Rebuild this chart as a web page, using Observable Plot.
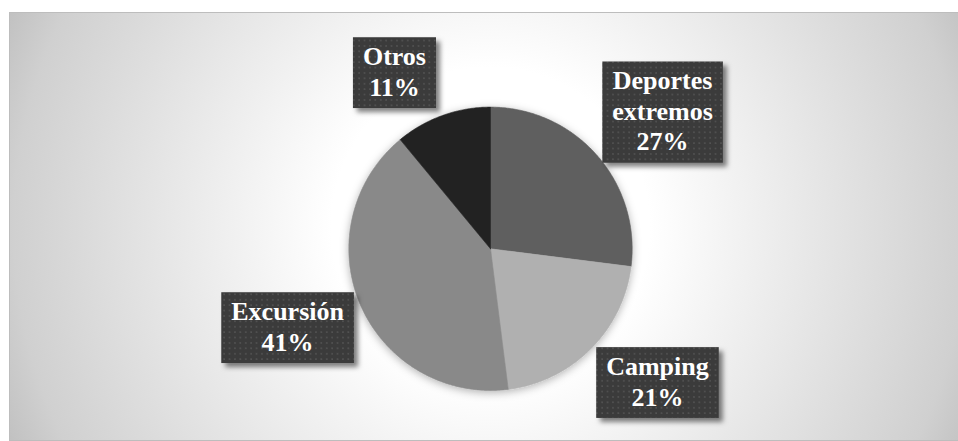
<!DOCTYPE html>
<html><head><meta charset="utf-8">
<script src="https://cdn.jsdelivr.net/npm/d3@7"></script>
<script src="https://cdn.jsdelivr.net/npm/@observablehq/plot@0.6"></script>
<style>html,body{margin:0;padding:0;background:#fff;} #chart{width:958px;height:441px;overflow:hidden;position:relative}
#chart svg{position:absolute;left:0;top:0}
.lbl{position:absolute;display:flex;align-items:center;justify-content:center;text-align:center;white-space:pre;
  font-family:"Liberation Serif","Times New Roman",serif;font-weight:bold;color:#fff;}</style>
</head><body><div id="chart"></div>
<script>
// ---- data ----
const categories = ["Deportes extremos", "Camping", "Excursión", "Otros"];
const values = [27, 21, 41, 11];
const colors = ["#5e5e5e", "#b0b0b0", "#898989", "#212121"];

// ---- layout ----
const W = 958, H = 441;
const CX = 490, CY = 248.3, R = 141.7;
const FONT_SIZE = 26, LINE_H = 1.17, FONT = "Liberation Serif";

const arcs = d3.pie().sort(null).value(d => d)(values);
const pt = (a, r) => ({x: CX + r * Math.sin(a), y: CY - r * Math.cos(a)});

const slices = arcs.map((a, i) => {
  const n = Math.max(2, Math.ceil((a.endAngle - a.startAngle) / (Math.PI / 360)));
  const pts = [{x: CX, y: CY}];
  for (let k = 0; k <= n; k++) pts.push(pt(a.startAngle + (a.endAngle - a.startAngle) * k / n, R));
  pts.push({x: CX, y: CY});
  return {name: categories[i], color: colors[i], points: pts};
});

const ctx = document.createElement("canvas").getContext("2d");
ctx.font = `bold ${FONT_SIZE}px "${FONT}"`;
const labels = arcs.map((a, i) => {
  const text = categories[i].replace(" ", "\n") + "\n" + values[i] + "%";
  const lines = text.split("\n");
  const w = d3.max(lines, l => ctx.measureText(l).width) + 20;
  const h = lines.length * FONT_SIZE * LINE_H + 10;
  const mid = (a.startAngle + a.endAngle) / 2;
  const A = pt(mid, R);
  const s = Math.sin(mid), c = Math.cos(mid);
  const cx = A.x + Math.sign(s) * (w / 2 + 6);
  const cy = A.y - c * (h / 2) - Math.sign(c) * 9;
  return {text, cx, cy, x1: cx - w / 2, x2: cx + w / 2, y1: cy - h / 2, y2: cy + h / 2};
});

const svg = Plot.plot({
  width: W, height: H,
  marginLeft: 9, marginTop: 12, marginRight: 0, marginBottom: 1,
  x: {domain: [9, W], range: [9, W], axis: null},
  y: {domain: [12, H - 1], range: [12, H - 1], axis: null},
  style: {background: "white", overflow: "visible"},
  marks: [
    Plot.frame({fill: "#d0d0d0", stroke: "#bdbdbd", strokeWidth: 1}),
    ...slices.map(s => Plot.line(s.points, {x: "x", y: "y", fill: s.color, stroke: s.color, strokeWidth: 0.6})),
    Plot.rect(labels, {x1: "x1", x2: "x2", y1: "y1", y2: "y2", fill: "#3b3b3b"})
  ]
});

// ---- decoration: gradient, dotted label boxes, shadows ----
const sel = d3.select(svg);
const defs = sel.insert("defs", ":first-child");
const grad = defs.append("radialGradient").attr("id", "bg").attr("gradientUnits", "userSpaceOnUse")
  .attr("cx", 490).attr("cy", 226).attr("r", 530);
[[0, "#ffffff"], [0.3, "#ffffff"], [0.9, "#d0d0d0"], [1, "#c0c0c0"]].forEach(([o, c]) =>
  grad.append("stop").attr("offset", o).attr("stop-color", c));
const pat = defs.append("pattern").attr("id", "dots").attr("patternUnits", "userSpaceOnUse")
  .attr("width", 5.4).attr("height", 5.4);
pat.append("rect").attr("width", 5.4).attr("height", 5.4).attr("fill", "#3b3b3b");
pat.append("rect").attr("x", 2).attr("y", 2).attr("width", 1.5).attr("height", 1.5).attr("fill", "#585858");
const f1 = defs.append("filter").attr("id", "boxShadow").attr("x", "-20%").attr("y", "-20%").attr("width", "150%").attr("height", "150%");
f1.append("feDropShadow").attr("dx", 4).attr("dy", 4).attr("stdDeviation", 2.5).attr("flood-color", "#000").attr("flood-opacity", 0.5);
const f2 = defs.append("filter").attr("id", "pieShadow").attr("x", "-20%").attr("y", "-20%").attr("width", "140%").attr("height", "140%");
f2.append("feDropShadow").attr("dx", 0).attr("dy", 2).attr("stdDeviation", 4).attr("flood-color", "#000").attr("flood-opacity", 0.3);

sel.selectAll('[aria-label="frame"]').each(function() {
  d3.select(this).attr("fill", "url(#bg)");
  d3.select(this).selectAll("rect").attr("fill", "url(#bg)");
});
const pieG = sel.insert("g", '[aria-label="line"]').attr("filter", "url(#pieShadow)");
sel.selectAll('[aria-label="line"]').each(function() { pieG.node().appendChild(this); });
sel.selectAll('[aria-label="rect"]').each(function() {
  d3.select(this).attr("fill", "url(#dots)").attr("filter", "url(#boxShadow)");
  d3.select(this).selectAll("rect").attr("fill", "url(#dots)");
});

const chart = document.getElementById("chart");
chart.appendChild(svg);

// ---- data labels (placed with the plot's own x/y scales) ----
const sx = svg.scale && svg.scale("x"), sy = svg.scale && svg.scale("y");
const fx = sx && sx.apply ? sx.apply : (v => v);
const fy = sy && sy.apply ? sy.apply : (v => v);
labels.forEach(l => {
  const d = document.createElement("div");
  d.className = "lbl";
  const left = fx(l.x1), right = fx(l.x2), top = fy(l.y1), bottom = fy(l.y2);
  d.style.left = left + "px";
  d.style.top = top + "px";
  d.style.width = (right - left) + "px";
  d.style.height = (bottom - top) + "px";
  d.style.fontSize = FONT_SIZE + "px";
  d.style.lineHeight = (FONT_SIZE * LINE_H) + "px";
  d.textContent = l.text;
  chart.appendChild(d);
});
</script>
</body></html>
